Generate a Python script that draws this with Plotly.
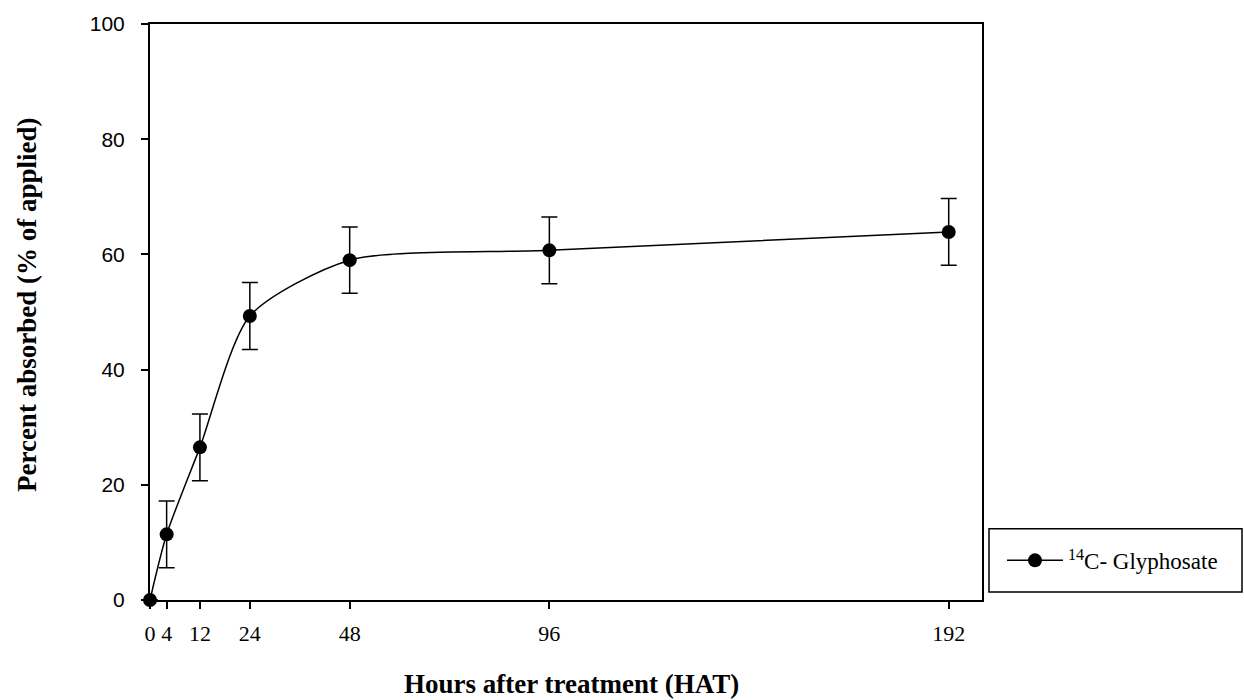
import plotly.graph_objects as go

hours = [0, 4, 12, 24, 48, 96, 192]
absorbed = [0.0, 11.4, 26.5, 49.3, 59.0, 60.7, 63.9]
err = [0, 5.8, 5.8, 5.8, 5.75, 5.8, 5.8]
x_ticks = [0, 4, 12, 24, 48, 96, 192]
y_ticks = [0, 20, 40, 60, 80, 100]

L, R, T, B = 150, 262, 18, 100
W, H = 1244, 700
pw, ph = W - L - R, H - T - B

def px(x):
    return (x - L) / pw

def py(y):
    return (H - B - y) / ph

fig = go.Figure()
fig.add_trace(go.Scatter(
    x=hours, y=absorbed,
    mode="lines+markers",
    line=dict(color="black", width=1.5, shape="spline", smoothing=0.7),
    marker=dict(color="black", size=14),
    error_y=dict(type="data", array=err, visible=True, color="black", thickness=1.5, width=8),
    name="<sup>14</sup>C- Glyphosate",
    cliponaxis=False,
))

fig.update_layout(
    width=W, height=H,
    margin=dict(l=L, r=R, t=T, b=B),
    paper_bgcolor="white", plot_bgcolor="white",
    showlegend=True,
    legend=dict(x=px(1002), y=py(560), xanchor="left", yanchor="middle",
                bgcolor="rgba(0,0,0,0)", borderwidth=0,
                font=dict(family="Liberation Serif", size=23, color="black"),
                itemwidth=56),
    xaxis=dict(range=[0, 200], tickvals=x_ticks, ticktext=[str(v) for v in x_ticks],
               showgrid=False, zeroline=False, showline=True, linecolor="black", linewidth=2,
               mirror=True, ticks="outside", ticklen=7, tickwidth=1.5, tickcolor="black",
               ticklabelstandoff=6,
               tickfont=dict(family="Liberation Serif", size=22, color="black")),
    yaxis=dict(range=[0, 100], tickvals=y_ticks,
               showgrid=False, zeroline=False, showline=True, linecolor="black", linewidth=2,
               mirror=True, ticks="outside", ticklen=7, tickwidth=1.5, tickcolor="black",
               ticklabelstandoff=12,
               tickfont=dict(family="Liberation Sans", size=21, color="black")),
    shapes=[dict(type="rect", xref="paper", yref="paper",
                 x0=px(989), x1=px(1242), y0=py(592), y1=py(528),
                 line=dict(color="black", width=1.5), fillcolor="rgba(0,0,0,0)")],
    annotations=[
        dict(text="<b>Hours after treatment (HAT)</b>", xref="paper", yref="paper",
             x=px(571), y=py(685), xanchor="center", yanchor="middle", showarrow=False,
             font=dict(family="Liberation Serif", size=27, color="black")),
        dict(text="<b>Percent absorbed (% of applied)</b>", xref="paper", yref="paper",
             x=px(27), y=py(302), xanchor="center", yanchor="middle", showarrow=False,
             textangle=-90,
             font=dict(family="Liberation Serif", size=27, color="black")),
    ],
)

fig.write_html("out.html")
